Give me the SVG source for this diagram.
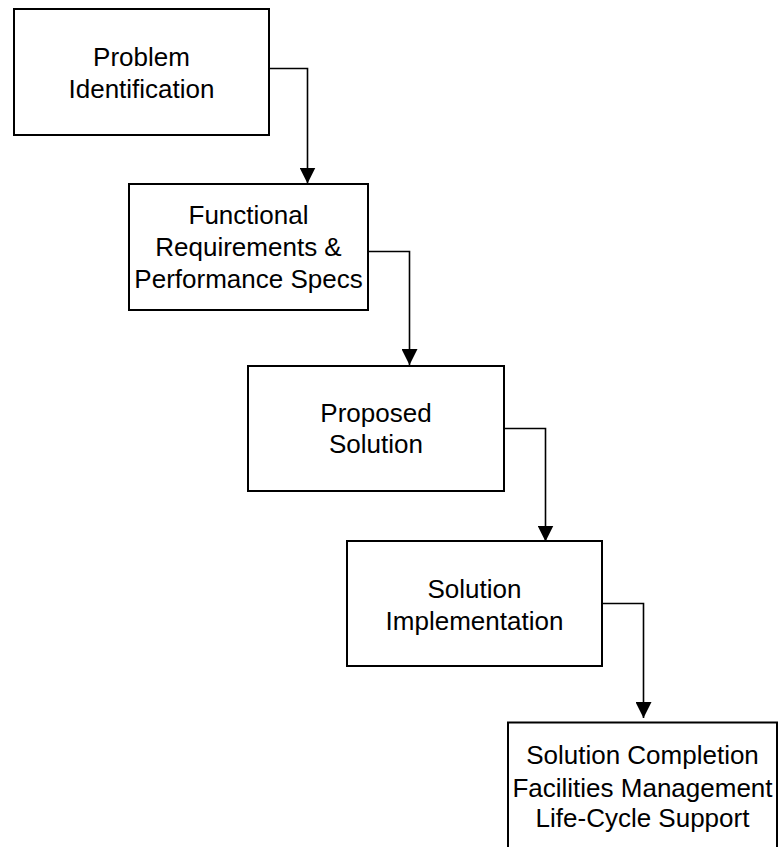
<svg xmlns="http://www.w3.org/2000/svg" width="779" height="847" viewBox="0 0 779 847">
<style>
.box{fill:#fff;stroke:#000;stroke-width:2}
.lbl{font-family:"Liberation Sans",Arial,sans-serif;font-size:26px;fill:#000;text-anchor:middle}
.con{fill:none;stroke:#000;stroke-width:1.6}
</style>
<defs>
<marker id="arr" markerUnits="userSpaceOnUse" markerWidth="16" markerHeight="16" refX="16" refY="8" orient="auto">
<path d="M0,0 L16,8 L0,16 Z" fill="#000"/>
</marker>
</defs>
<rect width="779" height="847" fill="#fff"/>
<g id="connectors">
<path class="con" d="M269,68.5 H307.5 V183.5" marker-end="url(#arr)"/>
<path class="con" d="M368,251.5 H409.5 V365" marker-end="url(#arr)"/>
<path class="con" d="M504,428.5 H545.5 V541.5" marker-end="url(#arr)"/>
<path class="con" d="M602,603.5 H643.5 V718" marker-end="url(#arr)"/>
</g>
<g id="n1">
<rect class="box" x="14" y="9" width="255" height="126"/>
<text class="lbl" x="141.5" y="66">Problem</text>
<text class="lbl" x="141.5" y="98">Identification</text>
</g>
<g id="n2">
<rect class="box" x="129" y="184" width="239" height="126"/>
<text class="lbl" x="248.5" y="224">Functional</text>
<text class="lbl" x="248.5" y="256">Requirements &amp;</text>
<text class="lbl" x="248.5" y="288">Performance Specs</text>
</g>
<g id="n3">
<rect class="box" x="248" y="366" width="256" height="125"/>
<text class="lbl" x="376" y="422">Proposed</text>
<text class="lbl" x="376" y="453">Solution</text>
</g>
<g id="n4">
<rect class="box" x="347" y="541" width="255" height="125"/>
<text class="lbl" x="474.5" y="598">Solution</text>
<text class="lbl" x="474.5" y="630">Implementation</text>
</g>
<g id="n5">
<rect class="box" x="508" y="722.5" width="269" height="135"/>
<text class="lbl" x="642.5" y="764">Solution Completion</text>
<text class="lbl" x="642.5" y="797">Facilities Management</text>
<text class="lbl" x="642.5" y="827">Life-Cycle Support</text>
</g>
</svg>
